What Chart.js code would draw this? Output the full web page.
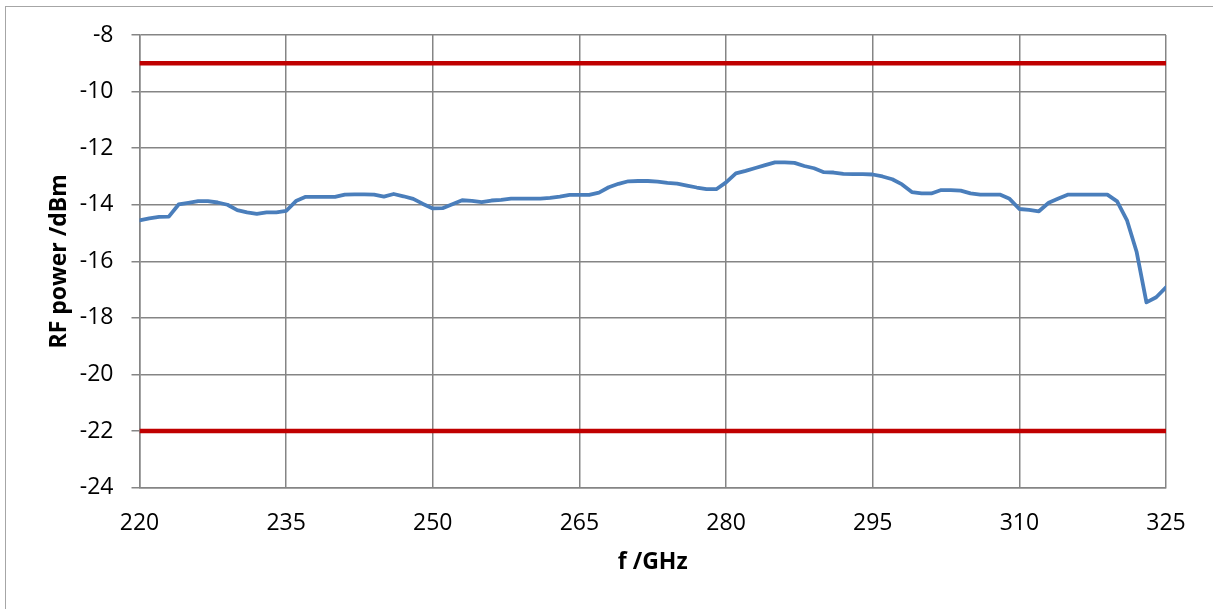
<!DOCTYPE html>
<html>
<head>
<meta charset="utf-8">
<script src="https://cdn.jsdelivr.net/npm/chart.js@4/dist/chart.umd.min.js"></script>
<style>
  html, body { margin: 0; padding: 0; background: #ffffff; }
  #wrap { position: relative; width: 1213px; height: 609px; overflow: hidden; }
  #frame { position: absolute; left: 5px; top: 6px; width: 1300px; height: 700px;
           border-left: 1px solid #a6a6a6; border-top: 1px solid #a6a6a6; box-sizing: border-box; }
  canvas { position: absolute; left: 0; top: 0; }
</style>
</head>
<body>
<div id="wrap">
  <div id="frame"></div>
  <canvas id="c" width="1213" height="609"></canvas>
</div>
<script>
// ---- data ----
const freqGHz = [
  220,221,222,223,224,225,226,227,228,229,
  230,231,232,233,234,235,236,237,238,239,
  240,241,242,243,244,245,246,247,248,249,
  250,251,252,253,254,255,256,257,258,259,
  260,261,262,263,264,265,266,267,268,269,
  270,271,272,273,274,275,276,277,278,279,
  280,281,282,283,284,285,286,287,288,289,
  290,291,292,293,294,295,296,297,298,299,
  300,301,302,303,304,305,306,307,308,309,
  310,311,312,313,314,315,316,317,318,319,
  320,321,322,323,324,325
];
const rfPowerDbm = [
  -14.55,-14.48,-14.43,-14.42,-13.99,-13.93,-13.87,-13.87,-13.92,-14.00,
  -14.19,-14.27,-14.32,-14.27,-14.27,-14.22,-13.87,-13.72,-13.72,-13.72,
  -13.72,-13.64,-13.63,-13.63,-13.64,-13.71,-13.62,-13.70,-13.79,-13.97,
  -14.13,-14.12,-13.98,-13.84,-13.86,-13.91,-13.85,-13.83,-13.78,-13.78,
  -13.78,-13.78,-13.76,-13.71,-13.65,-13.65,-13.65,-13.57,-13.38,-13.26,
  -13.17,-13.16,-13.16,-13.18,-13.23,-13.25,-13.32,-13.39,-13.45,-13.45,
  -13.21,-12.89,-12.80,-12.70,-12.60,-12.50,-12.50,-12.52,-12.63,-12.71,
  -12.85,-12.86,-12.91,-12.92,-12.92,-12.93,-13.00,-13.10,-13.28,-13.55,
  -13.60,-13.60,-13.48,-13.48,-13.50,-13.60,-13.64,-13.64,-13.64,-13.79,
  -14.15,-14.18,-14.23,-13.93,-13.78,-13.64,-13.64,-13.64,-13.64,-13.64,
  -13.88,-14.54,-15.67,-17.45,-17.27,-16.92
];
const upperLimitDbm = -9;
const lowerLimitDbm = -22;
const limitSpanGHz = [220, 325];
const xTickLabels = [220, 235, 250, 265, 280, 295, 310, 325];
const yTickLabels = [-24, -22, -20, -18, -16, -14, -12, -10, -8];
const xTitle = 'f /GHz';
const yTitle = 'RF power /dBm';

// ---- build ----
const mainPts = freqGHz.map((f, i) => ({ x: f, y: rfPowerDbm[i] }));
const upperPts = limitSpanGHz.map(f => ({ x: f, y: upperLimitDbm }));
const lowerPts = limitSpanGHz.map(f => ({ x: f, y: lowerLimitDbm }));

const gridColor = '#858585';
const fontFam = "'Open Sans', 'DejaVu Sans', sans-serif";

new Chart(document.getElementById('c'), {
  type: 'line',
  data: {
    datasets: [
      { data: upperPts, borderColor: '#C00000', borderWidth: 4.5, pointRadius: 0, tension: 0 },
      { data: lowerPts, borderColor: '#C00000', borderWidth: 4.5, pointRadius: 0, tension: 0 },
      { data: mainPts, borderColor: '#4A7EBB', borderWidth: 3.8, pointRadius: 0, tension: 0,
        borderJoinStyle: 'round', borderCapStyle: 'round' }
    ]
  },
  options: {
    responsive: false,
    animation: false,
    events: [],
    layout: { padding: { left: 46, right: 47, top: 35, bottom: 33 } },
    plugins: { legend: { display: false }, tooltip: { enabled: false } },
    scales: {
      x: {
        type: 'linear',
        min: 220, max: 325,
        afterBuildTicks: (s) => { s.ticks = xTickLabels.map(v => ({ value: v })); },
        afterFit: (s) => { s.height = 88.3; },
        grid: { color: gridColor, lineWidth: 1.5, drawTicks: false },
        border: { color: gridColor, width: 1.5 },
        ticks: { color: '#000', padding: 22, maxRotation: 0, font: { family: fontFam, size: 23 } },
        title: { display: true, text: xTitle, color: '#000', padding: { top: 0, bottom: 0 },
                 font: { family: fontFam, size: 23, weight: 'bold' } }
      },
      y: {
        type: 'linear',
        min: -24, max: -8,
        afterBuildTicks: (s) => { s.ticks = yTickLabels.map(v => ({ value: v })); },
        afterFit: (s) => { s.width = 93.5; },
        grid: { color: gridColor, lineWidth: 1.5, tickLength: 8 },
        border: { color: gridColor, width: 1.5 },
        ticks: { color: '#000', padding: 18, font: { family: fontFam, size: 23 } },
        title: { display: true, text: yTitle, color: '#000', padding: { top: 0, bottom: 0 },
                 font: { family: fontFam, size: 23, weight: 'bold' } }
      }
    }
  }
});
</script>
</body>
</html>
